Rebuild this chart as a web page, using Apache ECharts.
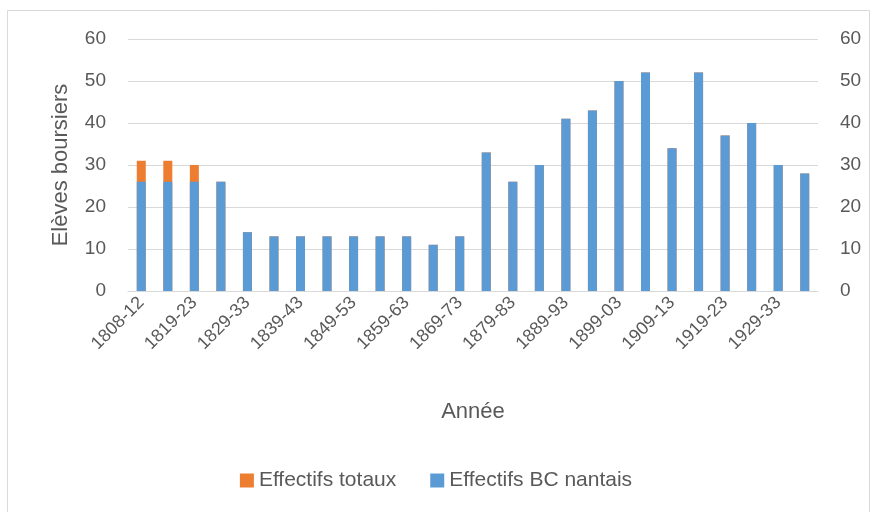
<!DOCTYPE html>
<html><head><meta charset="utf-8">
<script src="https://cdn.jsdelivr.net/npm/echarts@6/dist/echarts.min.js"></script>
<style>html,body{margin:0;padding:0;background:#fff}#c{width:872px;height:512px}</style>
</head><body><div id="c"></div>
<script>
const categories = ["1808-12","1813-18","1819-23","1824-28","1829-33","1834-38","1839-43","1844-48","1849-53","1854-58","1859-63","1864-68","1869-73","1874-78","1879-83","1884-88","1889-93","1894-98","1899-03","1904-08","1909-13","1914-18","1919-23","1924-28","1929-33","1934-38"];
const totaux = [31,31,30,26,14,13,13,13,13,13,13,11,13,33,26,30,41,43,50,52,34,52,37,40,30,28];
const nantais = [26,26,26,26,14,13,13,13,13,13,13,11,13,33,26,30,41,43,50,52,34,52,37,40,30,28];
const yTicks = [0,10,20,30,40,50,60];

const chart = echarts.init(document.getElementById('c'), null, {renderer:'canvas'});
const txt = '#595959';
const font = 'Liberation Sans';
chart.setOption({
  animation:false,
  textStyle:{fontFamily:font},
  graphic:[{type:'rect',shape:{x:7.5,y:10.5,width:862,height:510},style:{fill:'none',stroke:'#d9d9d9',lineWidth:1},z:-1}],
  grid:{left:128,right:54,top:39,bottom:221},
  legend:{
    bottom:16,left:'center',itemWidth:14,itemHeight:14,itemGap:34,
    icon:'rect',
    textStyle:{color:txt,fontSize:21,fontFamily:font},
    data:['Effectifs totaux','Effectifs BC nantais']
  },
  xAxis:{
    type:'category',data:categories,
    name:'Année',nameLocation:'middle',nameGap:110,
    nameTextStyle:{color:txt,fontSize:22,fontFamily:font},
    axisLine:{lineStyle:{color:'#d9d9d9'}},
    axisTick:{show:false},
    axisLabel:{interval:1,rotate:45,color:txt,fontSize:18,fontFamily:font,margin:9}
  },
  yAxis:[{
    type:'value',min:yTicks[0],max:yTicks[yTicks.length-1],interval:10,
    name:'Elèves boursiers',nameLocation:'middle',nameGap:56,nameRotate:90,
    nameTextStyle:{color:txt,fontSize:22,fontFamily:font},
    axisLabel:{color:txt,fontSize:19,fontFamily:font,margin:22},
    splitLine:{lineStyle:{color:'#d9d9d9'}},
    axisLine:{show:false},axisTick:{show:false}
  },{
    type:'value',min:yTicks[0],max:yTicks[yTicks.length-1],interval:10,position:'right',
    axisLabel:{color:txt,fontSize:19,fontFamily:font,margin:22},
    splitLine:{show:false},axisLine:{show:false},axisTick:{show:false}
  }],
  series:[
    {name:'Effectifs totaux',type:'bar',data:totaux,barWidth:9,barGap:'-100%',itemStyle:{color:'#ed7d31'}},
    {name:'Effectifs BC nantais',type:'bar',data:nantais,barWidth:9,itemStyle:{color:'#5b9bd5'}}
  ]
});
</script></body></html>
